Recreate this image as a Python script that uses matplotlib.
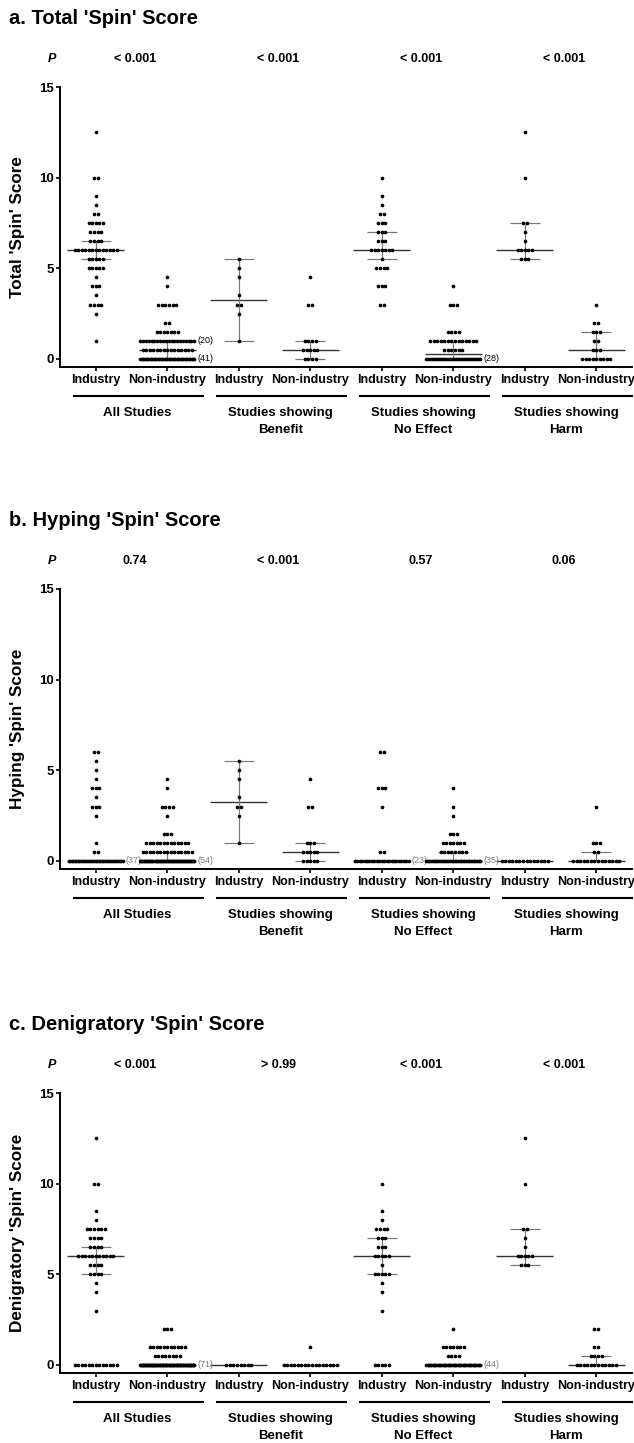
import matplotlib
matplotlib.use("Agg")
import matplotlib.pyplot as plt
import matplotlib.transforms as mtransforms
import numpy as np

plt.rcParams['font.family'] = ['Liberation Sans', 'DejaVu Sans']
plt.rcParams['font.weight'] = 'bold'

# ---------------------------------------------------------------- data
GROUP_LABELS = ["Industry", "Non-industry"] * 4
SUBSET_LABELS = ["All Studies", "Studies showing\nBenefit",
                 "Studies showing\nNo Effect", "Studies showing\nHarm"]

# each group: {score: number of studies with that score}
TOTAL_ROWS = [
    {12.5: 1, 10: 2, 9: 1, 8.5: 1, 8: 2, 7.5: 5, 7: 4, 6.5: 4, 6: 13, 5.5: 5,
     5: 5, 4.5: 1, 4: 3, 3.5: 1, 3: 4, 2.5: 1, 1: 1},
    {4.5: 1, 4: 1, 3: 6, 2: 2, 1.5: 7, 1: 20, 0.5: 15, 0: 41},
    {5.5: 1, 5: 1, 4.5: 1, 3.5: 1, 3: 2, 2.5: 1, 1: 1},
    {4.5: 1, 3: 2, 1: 4, 0.5: 5, 0: 4},
    {10: 1, 9: 1, 8.5: 1, 8: 2, 7.5: 3, 7: 3, 6.5: 3, 6: 7, 5.5: 1, 5: 4,
     4: 3, 3: 2},
    {4: 1, 3: 3, 1.5: 4, 1: 14, 0.5: 6, 0: 28},
    {12.5: 1, 10: 1, 7.5: 2, 7: 1, 6.5: 1, 6: 5, 5.5: 3},
    {3: 1, 2: 2, 1.5: 3, 1: 2, 0.5: 3, 0: 9},
]
TOTAL_MEDIAN = [6, 0.5, 3.25, 0.5, 6, 0.25, 6, 0.5]
TOTAL_Q1 = [5.5, 0, 1, 0, 5.5, 0, 5.5, 0]
TOTAL_Q3 = [6.5, 1, 5.5, 1, 7, 1, 7.5, 1.5]
TOTAL_P = ["< 0.001", "< 0.001", "< 0.001", "< 0.001"]

HYPING_ROWS = [
    {6: 2, 5.5: 1, 5: 1, 4.5: 1, 4: 3, 3.5: 1, 3: 3, 2.5: 1, 1: 1, 0.5: 2,
     0: 37},
    {4.5: 1, 4: 1, 3: 4, 2.5: 1, 1.5: 3, 1: 13, 0.5: 15, 0: 54},
    {5.5: 1, 5: 1, 4.5: 1, 3.5: 1, 3: 2, 2.5: 1, 1: 1},
    {4.5: 1, 3: 2, 1: 3, 0.5: 5, 0: 5},
    {6: 2, 4: 3, 3: 1, 0.5: 2, 0: 23},
    {4: 1, 3: 1, 2.5: 1, 1.5: 3, 1: 7, 0.5: 8, 0: 35},
    {0: 14},
    {3: 1, 1: 3, 0.5: 2, 0: 14},
]
HYPING_MEDIAN = [0, 0, 3.25, 0.5, 0, 0, 0, 0]
HYPING_Q1 = [0, 0, 1, 0, 0, 0, 0, 0]
HYPING_Q3 = [0, 0.5, 5.5, 1, 0, 0.5, 0, 0.5]
HYPING_P = ["0.74", "< 0.001", "0.57", "0.06"]

DENIG_ROWS = [
    {12.5: 1, 10: 2, 8.5: 1, 8: 1, 7.5: 6, 7: 4, 6.5: 4, 6: 11, 5.5: 4,
     5: 4, 4.5: 1, 4: 1, 3: 1, 0: 13},
    {2: 3, 1: 11, 0.5: 8, 0: 71},
    {0: 8},
    {1: 1, 0: 16},
    {10: 1, 8.5: 1, 8: 1, 7.5: 4, 7: 3, 6.5: 3, 6: 5, 5.5: 1, 5: 5, 4.5: 1,
     4: 1, 3: 1, 0: 5},
    {2: 1, 1: 7, 0.5: 4, 0: 44},
    {12.5: 1, 10: 1, 7.5: 2, 7: 1, 6.5: 1, 6: 5, 5.5: 3},
    {2: 2, 1: 2, 0.5: 4, 0: 12},
]
DENIG_MEDIAN = [6, 0, 0, 0, 6, 0, 6, 0]
DENIG_Q1 = [5, 0, 0, 0, 5, 0, 5.5, 0]
DENIG_Q3 = [6.5, 0, 0, 0, 7, 0, 7.5, 0.5]
DENIG_P = ["< 0.001", "> 0.99", "< 0.001", "< 0.001"]

Y_TICKS = [0, 5, 10, 15]

PANELS = [
    ("a. Total 'Spin' Score", "Total 'Spin' Score",
     TOTAL_ROWS, TOTAL_MEDIAN, TOTAL_Q1, TOTAL_Q3, TOTAL_P, "black"),
    ("b. Hyping 'Spin' Score", "Hyping 'Spin' Score",
     HYPING_ROWS, HYPING_MEDIAN, HYPING_Q1, HYPING_Q3, HYPING_P, "#777777"),
    ("c. Denigratory 'Spin' Score", "Denigratory 'Spin' Score",
     DENIG_ROWS, DENIG_MEDIAN, DENIG_Q1, DENIG_Q3, DENIG_P, "#777777"),
]

# ---------------------------------------------------------------- layout
W, H = 634, 1443
AX_LEFT, AX_RIGHT = 60, 632
PANEL_TOPS = [87, 589, 1093]
Y_MIN, Y_MAX = -0.47, 15
PX_PER_UNIT = 18.13
AX_H = (Y_MAX - Y_MIN) * PX_PER_UNIT

DOT_STEP = 0.049      # horizontal gap between neighbouring dots
MAX_ROW = 0.755       # widest a row of dots may spread
MED_HALF = 0.40
CAP_HALF = 0.21
COUNT_LABEL_MIN = 17  # rows this crowded get an "(n)" note

positions = np.arange(1, len(GROUP_LABELS) + 1)

fig = plt.figure(figsize=(W / 100, H / 100), dpi=100)

for p_idx, (title, ylabel, rows, med, q1, q3, pvals, note_color) in enumerate(PANELS):
    top = PANEL_TOPS[p_idx]
    bottom = top + AX_H
    ax = fig.add_axes([AX_LEFT / W, 1 - bottom / H,
                       (AX_RIGHT - AX_LEFT) / W, AX_H / H])
    blend = mtransforms.blended_transform_factory(ax.transData, ax.transAxes)

    def below(px):
        """axes-fraction y for a point px pixels below the x-axis line"""
        return -px / AX_H

    # dots
    xs, ys = [], []
    for pos, grp in zip(positions, rows):
        for score, n in grp.items():
            w = min((n - 1) * DOT_STEP, MAX_ROW)
            xs.extend(pos + np.linspace(-w / 2, w / 2, n))
            ys.extend([score] * n)
            if n >= COUNT_LABEL_MIN:
                ax.annotate(f"({n})", xy=(pos + w / 2, score), xytext=(2.0, 0),
                            textcoords="offset points", ha="left", va="center",
                            fontsize=6.5, fontweight="normal", color=note_color)
    ax.scatter(xs, ys, s=7, color="black", linewidths=0, zorder=3,
               clip_on=False)

    # median and interquartile range
    for pos, m, lo, hi in zip(positions, med, q1, q3):
        ax.hlines(m, pos - MED_HALF, pos + MED_HALF, color="#333333",
                  lw=1.0, zorder=2)
        if hi > lo:
            ax.vlines(pos, lo, hi, color="#7a7a7a", lw=0.9, zorder=2)
            for v in (lo, hi):
                ax.hlines(v, pos - CAP_HALF, pos + CAP_HALF, color="#7a7a7a",
                          lw=0.9, zorder=2)

    ax.set_xlim(0.5, 8.5)
    ax.set_ylim(Y_MIN, Y_MAX)
    ax.spines["top"].set_visible(False)
    ax.spines["right"].set_visible(False)
    ax.spines["left"].set_bounds(Y_MIN, Y_MAX)
    for s in ("left", "bottom"):
        ax.spines[s].set_linewidth(1.4)
    ax.set_yticks(Y_TICKS)
    ax.set_yticklabels([str(t) for t in Y_TICKS], fontsize=9.5,
                       fontweight="bold")
    ax.set_xticks(positions)
    ax.set_xticklabels(GROUP_LABELS, fontsize=9, fontweight="bold")
    ax.tick_params(axis="both", direction="out", length=3, width=1.2)
    ax.tick_params(axis="x", pad=1.6)
    ax.tick_params(axis="y", pad=1.5)

    ax.set_ylabel(ylabel, fontsize=12.3, fontweight="bold")
    ax.yaxis.set_label_coords(-(AX_LEFT - 25) / (AX_RIGHT - AX_LEFT), 0.5)

    # title and P row
    fig.text(9 / W, 1 - (top - 69) / H, title, fontsize=14.5,
             fontweight="bold", ha="left", va="center")
    fig.text(52 / W, 1 - (top - 28) / H, "P", fontsize=9,
             fontweight="bold", style="italic", ha="center", va="center")

    for k, (pv, sub) in enumerate(zip(pvals, SUBSET_LABELS)):
        centre = positions[2 * k] + 0.5
        ax.text(centre + 0.05, 1 + 28 / AX_H, pv, transform=blend,
                ha="center", va="center", fontsize=9, fontweight="bold")
        ax.plot([centre + 0.1 - 0.92, centre + 0.1 + 0.92],
                [below(28.5)] * 2, transform=blend, color="black", lw=1.5,
                clip_on=False, solid_capstyle="butt")
        for j, line in enumerate(sub.split("\n")):
            ax.text(centre + 0.08, below(45.5 + 17 * j), line,
                    transform=blend, ha="center", va="center",
                    fontsize=9.5, fontweight="bold")

fig.savefig("out.png", dpi=100)
